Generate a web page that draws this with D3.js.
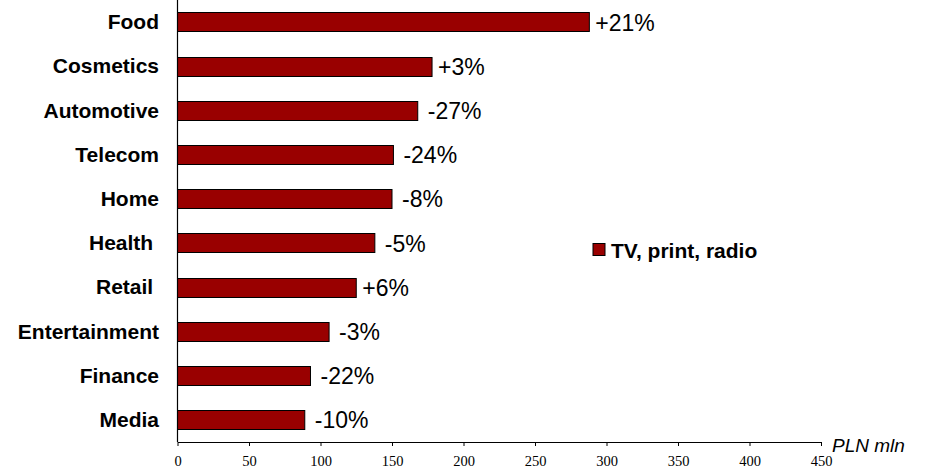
<!DOCTYPE html>
<html>
<head>
<meta charset="utf-8">
<script src="https://cdn.jsdelivr.net/npm/d3@7"></script>
<style>
  html, body { margin: 0; padding: 0; background: #fff; }
  svg { display: block; }
  .cat { white-space: pre; }
</style>
</head>
<body>
<svg id="chart" width="928" height="469"></svg>
<script>
// Advertising spend by sector (PLN mln) and year-on-year change
const categories = ["Food", "Cosmetics", "Automotive", "Telecom", "Home", "Health ", "Retail ", "Entertainment", "Finance", "Media"];
const spend = [288, 178, 168, 151, 150, 138, 125, 106, 93, 89];
const change = ["+21%", "+3%", "-27%", "-24%", "-8%", "-5%", "+6%", "-3%", "-22%", "-10%"];
const xTicks = [0, 50, 100, 150, 200, 250, 300, 350, 400, 450];
const seriesName = "TV, print, radio";
const unitLabel = "PLN mln";

const svg = d3.select("#chart");
const barColor = "#990000";

const x = d3.scaleLinear().domain([0, 450]).range([177.5, 821]);
const y = d3.scaleBand().domain(categories).range([-0.5, 441.5]).paddingInner(0.58).paddingOuter(0.29);

const rows = categories.map((c, i) => ({ cat: c, v: spend[i], lab: change[i] }));

// bars
svg.append("g").selectAll("rect").data(rows).join("rect")
  .attr("x", x(0))
  .attr("y", d => Math.round(y(d.cat)) + 0.5)
  .attr("width", d => x(d.v) - x(0))
  .attr("height", Math.round(y.bandwidth()))
  .attr("fill", barColor)
  .attr("stroke", "#000")
  .attr("stroke-width", 1);

// value-change labels (a leading minus sits a little further from the bar)
svg.append("g").selectAll("text").data(rows).join("text")
  .attr("x", d => x(d.v) + (d.lab.startsWith("-") ? 10 : 6))
  .attr("y", d => y(d.cat) + y.bandwidth() / 2 + 1)
  .attr("dominant-baseline", "central")
  .attr("font-family", "Liberation Sans, Arial, sans-serif")
  .attr("font-size", 23)
  .attr("fill", "#000")
  .text(d => d.lab);

// category labels
svg.append("g").selectAll("text").data(rows).join("text")
  .attr("class", "cat")
  .attr("x", 159)
  .attr("y", d => y(d.cat) + y.bandwidth() / 2)
  .attr("text-anchor", "end")
  .attr("dominant-baseline", "central")
  .attr("font-family", "Liberation Sans, Arial, sans-serif")
  .attr("font-weight", "bold")
  .attr("font-size", 21)
  .attr("fill", "#000")
  .text(d => d.cat);

// vertical axis line
svg.append("line")
  .attr("x1", 177.5).attr("x2", 177.5)
  .attr("y1", 0).attr("y2", 442)
  .attr("stroke", "#000").attr("stroke-width", 1.2);

// horizontal axis
const xAxis = d3.axisBottom(x).tickValues(xTicks).tickSize(4).tickSizeOuter(0).tickPadding(10);
const gx = svg.append("g").attr("transform", "translate(0,442)").call(xAxis);
gx.select(".domain").attr("stroke", "#000").attr("stroke-width", 1.2);
gx.selectAll(".tick line").attr("stroke", "#000");
gx.selectAll(".tick text")
  .attr("font-family", "Liberation Serif, Times New Roman, serif")
  .attr("font-size", 14.5)
  .attr("fill", "#000");

// unit label
svg.append("text")
  .attr("x", 832)
  .attr("y", 452)
  .attr("font-family", "Liberation Sans, Arial, sans-serif")
  .attr("font-style", "italic")
  .attr("font-size", 19)
  .attr("fill", "#000")
  .text(unitLabel);

// legend
const lg = svg.append("g").attr("transform", "translate(593,243.5)");
lg.append("rect").attr("width", 12).attr("height", 12)
  .attr("fill", barColor).attr("stroke", "#000").attr("stroke-width", 1);
lg.append("text")
  .attr("x", 18).attr("y", 6.5)
  .attr("dominant-baseline", "central")
  .attr("font-family", "Liberation Sans, Arial, sans-serif")
  .attr("font-weight", "bold")
  .attr("font-size", 21)
  .attr("fill", "#000")
  .text(seriesName);
</script>
</body>
</html>
